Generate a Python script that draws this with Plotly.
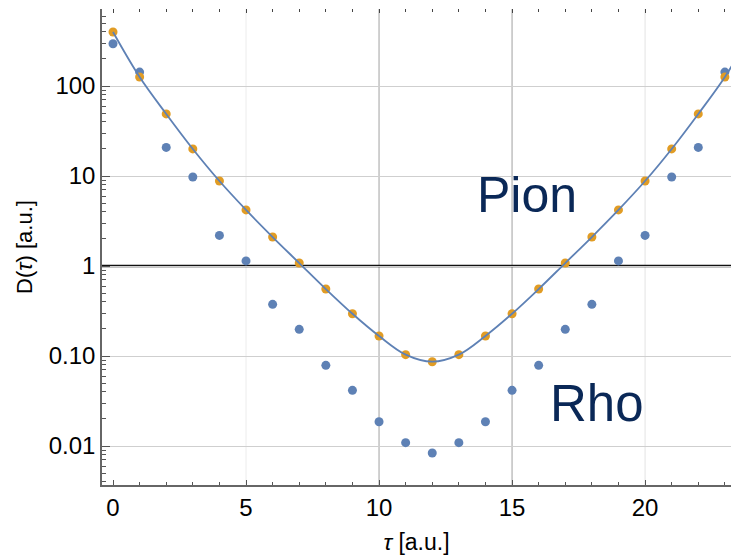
import plotly.graph_objects as go

# ---- data ----
tau = list(range(0, 24))
pion = [398, 126, 49, 20, 8.8, 4.2, 2.1, 1.08, 0.555, 0.295, 0.167, 0.1035, 0.0865,
        0.1035, 0.167, 0.295, 0.555, 1.08, 2.1, 4.2, 8.8, 20, 49, 126]
rho = [295, 143, 20.8, 9.75, 2.19, 1.14, 0.375, 0.198, 0.0788, 0.0416, 0.0186, 0.0109, 0.00836,
       0.0109, 0.0186, 0.0416, 0.0788, 0.198, 0.375, 1.14, 2.19, 9.75, 20.8, 143]
fit_tau = list(range(0, 25))
fit_values = [398, 126, 49, 20, 8.8, 4.2, 2.1, 1.08, 0.555, 0.295, 0.167, 0.1035, 0.0865,
              0.1035, 0.167, 0.295, 0.555, 1.08, 2.1, 4.2, 8.8, 20, 49, 126, 398]
y_tickvals = [0.01, 0.1, 1, 10, 100]
y_ticktext = ["0.01", "0.10", "1", "10", "100"]
x_tickvals = [0, 5, 10, 15, 20]

ORANGE = "#E19C24"
BLUE = "#5E81B5"
NAVY = "#0a2857"
FONT = "Liberation Sans, Arial, sans-serif"

minor_y = [m * 10 ** e for e in range(-3, 3) for m in range(2, 10)]

fig = go.Figure()
fig.add_trace(go.Scatter(x=tau, y=rho, mode="markers",
                         marker=dict(color=BLUE, size=9), showlegend=False, name="Rho"))
fig.add_trace(go.Scatter(x=tau, y=pion, mode="markers",
                         marker=dict(color=ORANGE, size=9), showlegend=False, name="Pion"))
fig.add_trace(go.Scatter(x=fit_tau, y=fit_values, mode="lines",
                         line=dict(color=BLUE, width=1.8, shape="spline", smoothing=1.0),
                         showlegend=False, name="fit"))
# invisible trace for the top tick axis
fig.add_trace(go.Scatter(x=[0], y=[1], xaxis="x2", mode="markers",
                         marker=dict(opacity=0), showlegend=False, hoverinfo="skip"))

# vertical grid lines (varying intensity as in the reference)
for xv, col in [(5, "#f0f0f0"), (10, "#b0b0b0"), (15, "#b0b0b0"), (20, "#e8e8e8")]:
    fig.add_shape(type="line", xref="x", yref="paper", x0=xv, x1=xv, y0=0, y1=1,
                  line=dict(color=col, width=1.2), layer="below")
# black reference line at D = 1
fig.add_shape(type="line", xref="paper", yref="y", x0=0, x1=1, y0=1, y1=1,
              line=dict(color="#111111", width=2.5), layer="below")

fig.add_annotation(x=15.56, y=0.789, xref="x", yref="y", text="Pion", showarrow=False,
                   font=dict(family=FONT, size=50, color=NAVY), xanchor="center", yanchor="middle")
fig.add_annotation(x=18.2, y=-1.522, xref="x", yref="y", text="Rho", showarrow=False,
                   font=dict(family=FONT, size=51, color=NAVY), xanchor="center", yanchor="middle")

fig.update_layout(
    width=731, height=555,
    margin=dict(l=102, r=0, t=9, b=70),
    paper_bgcolor="white", plot_bgcolor="white",
    font=dict(family=FONT, size=24, color="black"),
    xaxis=dict(range=[-0.414, 23.23], tickmode="array", tickvals=x_tickvals,
               ticks="inside", ticklen=5, tickwidth=1, tickcolor="#555",
               showline=True, linecolor="#666", linewidth=1.5, showgrid=False, zeroline=False,
               minor=dict(dtick=1, tick0=0, ticks="inside", ticklen=3, tickcolor="#555", showgrid=False),
               tickfont=dict(size=24),
               title=dict(text="<i>τ</i> [a.u.]", font=dict(size=23), standoff=14)),
    xaxis2=dict(overlaying="x", side="top", matches="x", range=[-0.414, 23.23],
                tickmode="array", tickvals=x_tickvals, ticks="inside", ticklen=4,
                tickcolor="#444", showticklabels=False, showline=False, showgrid=False,
                zeroline=False,
                minor=dict(dtick=1, tick0=0, ticks="inside", ticklen=3, tickcolor="#444", showgrid=False)),
    yaxis=dict(type="log", range=[-2.433, 2.856], tickmode="array", tickvals=y_tickvals,
               ticktext=y_ticktext, ticks="inside", ticklen=8, tickwidth=1, tickcolor="#555",
               showline=True, linecolor="#666", linewidth=1.5, showgrid=True,
               gridcolor="#cfcfcf", gridwidth=1.2, zeroline=False,
               minor=dict(tickmode="array", tickvals=minor_y, ticks="inside", ticklen=4,
                          tickcolor="#555", showgrid=False),
               tickfont=dict(size=24),
               title=dict(text="D(<i>τ</i>) [a.u.]", font=dict(size=22), standoff=10)),
)

fig.write_html("out.html")
